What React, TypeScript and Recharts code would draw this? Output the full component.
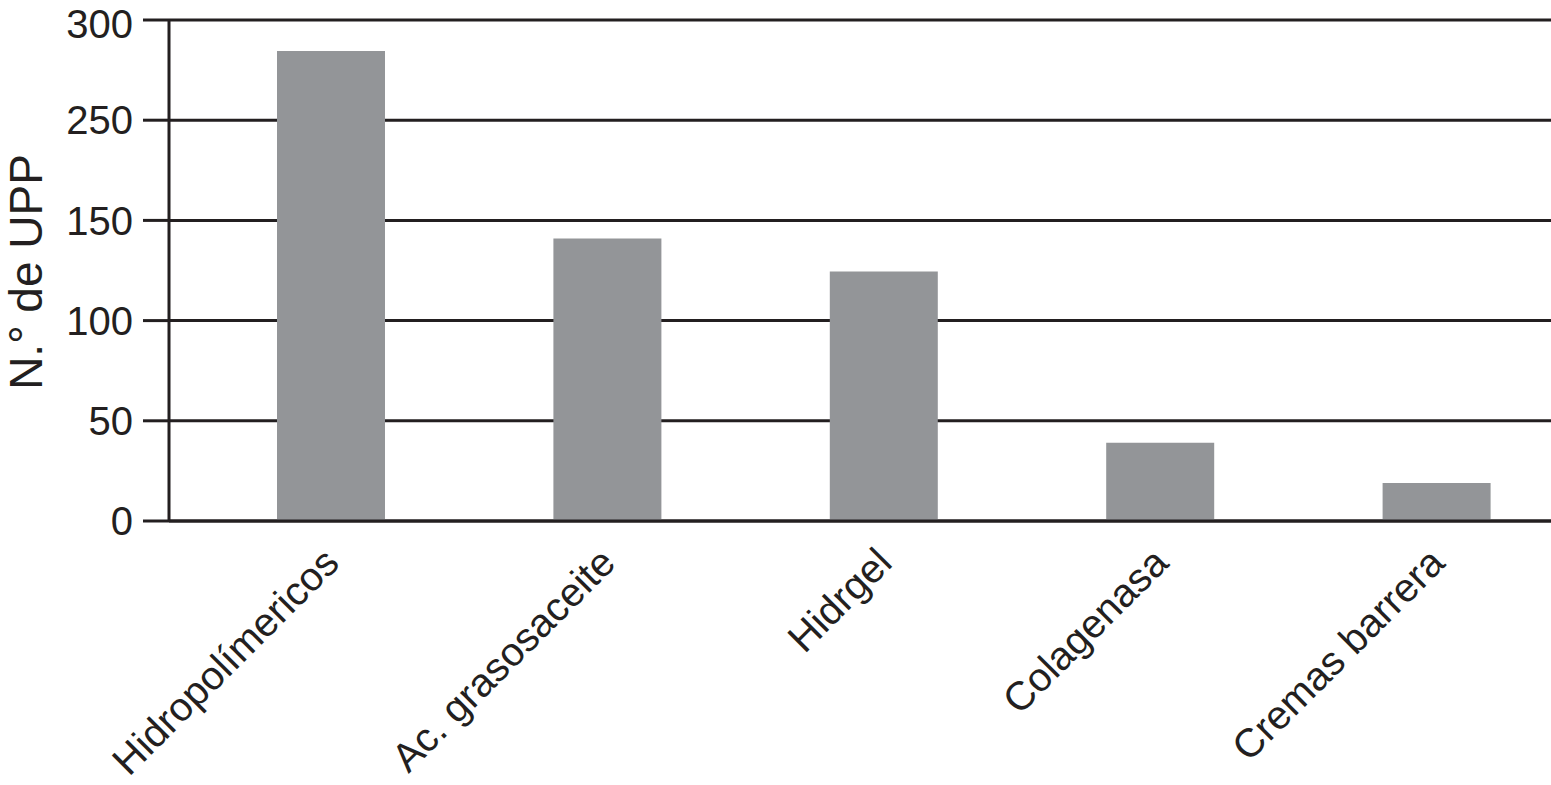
import React from 'react';
import { BarChart, Bar, XAxis, YAxis, CartesianGrid } from 'recharts';

const categories = ['Hidropolímericos', 'Ac. grasosaceite', 'Hidrgel', 'Colagenasa', 'Cremas barrera'];
// values expressed in position on the drawn axis (equally spaced gridlines)
const values = [234.5, 141, 124.5, 39, 19];
const tickPositions = [0, 50, 100, 150, 200, 250];
const tickLabels = ['0', '50', '100', '150', '250', '300'];
const yTitle = 'N.° de UPP';

const data = categories.map((c, i) => ({ name: c, v: values[i] }));

const FONT = '"Liberation Sans", Arial, Helvetica, sans-serif';
const INK = '#231f20';

const XTick = (props: any) => {
  const { x, y, payload } = props;
  return (
    <g transform={`translate(${x + 10},${y + 36})`}>
      <text transform="rotate(-45)" textAnchor="end" fontSize={40} fontFamily={FONT} fill={INK}>
        {payload.value}
      </text>
    </g>
  );
};

const YTitle = () => (
  <text
    x={42}
    y={272}
    transform="rotate(-90, 42, 272)"
    textAnchor="middle"
    fontSize={46}
    fontFamily={FONT}
    fill={INK}
  >
    {yTitle}
  </text>
);

export default function App() {
  return (
    <div style={{ position: 'absolute', left: 0, top: 0, width: 1551, height: 785, overflow: 'hidden', background: '#fff' }}>
      <BarChart width={1580} height={785} data={data} margin={{ top: 20, right: 5, bottom: 0, left: 0 }}>
        <CartesianGrid vertical={false} stroke={INK} strokeWidth={3} />
        <XAxis
          dataKey="name"
          height={264}
          interval={0}
          padding={{ left: 24, right: 0 }}
          axisLine={{ stroke: INK, strokeWidth: 3 }}
          tickLine={false}
          tick={<XTick />}
        />
        <YAxis
          type="number"
          domain={[0, 250]}
          ticks={tickPositions}
          width={169}
          tickSize={26}
          tickMargin={10}
          axisLine={{ stroke: INK, strokeWidth: 3 }}
          tickLine={{ stroke: INK, strokeWidth: 3 }}
          tickFormatter={(v: number) => tickLabels[tickPositions.indexOf(v)]}
          tick={{ fontSize: 40, fontFamily: FONT, fill: INK }}
          label={<YTitle />}
        />
        <Bar dataKey="v" fill="#939598" barSize={108} isAnimationActive={false} />
      </BarChart>
    </div>
  );
}
